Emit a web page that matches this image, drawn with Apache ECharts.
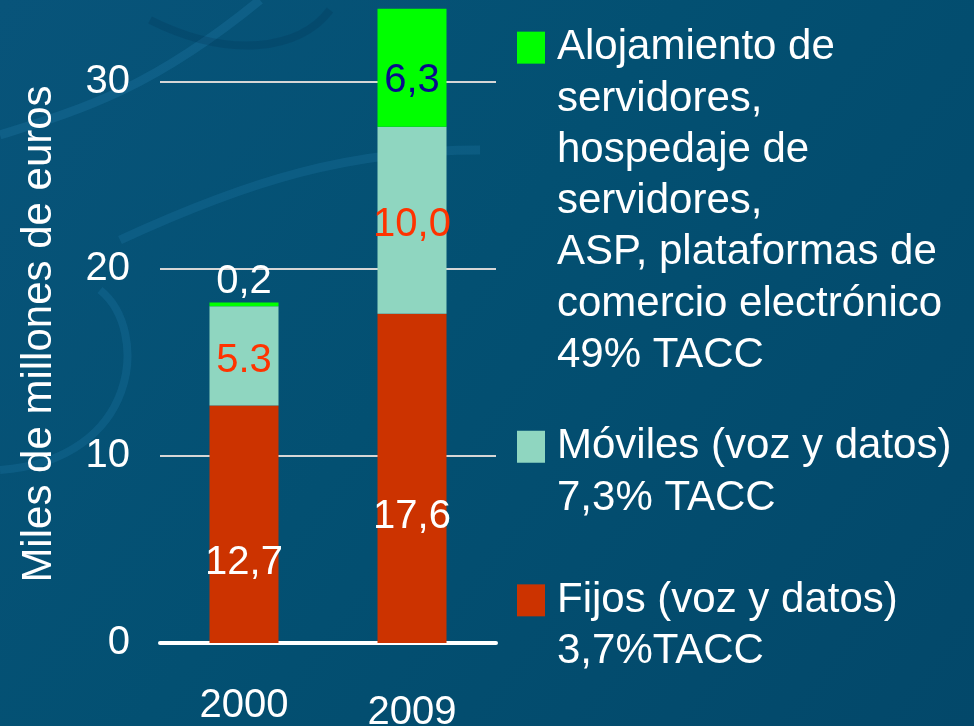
<!DOCTYPE html>
<html>
<head>
<meta charset="utf-8">
<script src="https://cdn.jsdelivr.net/npm/echarts@6/dist/echarts.min.js"></script>
<style>
  html, body { margin: 0; padding: 0; }
  #main { width: 974px; height: 726px; }
</style>
</head>
<body>
<div id="main"></div>
<script>
var years = ['2000', '2009'];
var fijos = [12.7, 17.6];
var moviles = [5.3, 10.0];
var alojamiento = [0.2, 6.3];
var fijosLabels = ['12,7', '17,6'];
var movilesLabels = ['5.3', '10,0'];
var alojamientoLabels = ['0,2', '6,3'];
var yTicks = [0, 10, 20, 30];

var legendLines = {
  'Alojamiento': ['Alojamiento de', 'servidores,', 'hospedaje de', 'servidores,',
                  'ASP, plataformas de', 'comercio electrónico', '49% TACC'],
  'Móviles': ['Móviles (voz y datos)', '7,3% TACC'],
  'Fijos': ['Fijos (voz y datos)', '3,7%TACC']
};
var legendKey = { 'Alojamiento': 'a', 'Móviles': 'm', 'Fijos': 'f' };

var font = '"Liberation Sans", Arial, sans-serif';
var green = '#00ff00', teal = '#8fd6c0', red = '#cc3300';

var myChart = echarts.init(document.getElementById('main'));

function labelFrom(arr) {
  return function (p) { return arr[p.dataIndex]; };
}

// faint background swirls
function swirl(x1, y1, cx1, cy1, cx2, cy2, x2, y2, color, w) {
  return {
    type: 'bezierCurve', silent: true, z: -1,
    shape: { x1: x1, y1: y1, cpx1: cx1, cpy1: cy1, cpx2: cx2, cpy2: cy2, x2: x2, y2: y2 },
    style: { stroke: color, lineWidth: w, fill: null }
  };
}

var option = {
  backgroundColor: {
    type: 'linear', x: 0, y: 0, x2: 1, y2: 1,
    colorStops: [
      { offset: 0, color: '#08547a' },
      { offset: 0.45, color: '#035072' },
      { offset: 1, color: '#03486a' }
    ]
  },
  textStyle: { fontFamily: font },
  graphic: [
    swirl(0, 135, 80, 110, 150, 90, 260, 0, 'rgba(40,130,180,0.25)', 9),
    swirl(120, 240, 250, 180, 350, 150, 480, 150, 'rgba(40,130,180,0.22)', 9),
    swirl(0, 470, 140, 460, 150, 330, 100, 290, 'rgba(40,130,180,0.22)', 8),
    swirl(150, 20, 230, 60, 300, 50, 330, 10, 'rgba(0,40,70,0.18)', 8)
  ],
  grid: { left: 160, right: 478, top: 7, bottom: 83, outerBoundsMode: 'none' },
  legend: {
    orient: 'vertical',
    left: 512,
    top: 22,
    padding: 0,
    itemGap: 40,
    itemWidth: 0,
    itemHeight: 0,
    itemStyle: { opacity: 0 },
    selectedMode: false,
    data: [
      { name: 'Alojamiento' },
      { name: 'Móviles' },
      { name: 'Fijos', textStyle: { padding: [11, 0, 0, 0] } }
    ],
    formatter: function (name) {
      var k = legendKey[name];
      return legendLines[name].map(function (line, i) {
        return (i === 0 ? '{sq' + k + '|}{gap|}' : '{ind|}') + '{t|' + line + '}';
      }).join('\n');
    },
    textStyle: {
      color: '#ffffff',
      fontFamily: font,
      fontSize: 42,
      lineHeight: 51.3,
      rich: {
        sqa: { width: 28, height: 28, backgroundColor: green, padding: [0, 0, 4, 0] },
        sqm: { width: 28, height: 28, backgroundColor: teal, padding: [0, 0, 4, 0] },
        sqf: { width: 28, height: 28, backgroundColor: red, padding: [0, 0, 4, 0] },
        gap: { width: 12 },
        ind: { width: 40 },
        t: { color: '#ffffff', fontFamily: font, fontSize: 42, lineHeight: 51.3 }
      }
    }
  },
  xAxis: {
    type: 'category',
    data: years.map(function (y, i) {
      return { value: y, textStyle: { padding: [i === 1 ? 7 : 0, 0, 0, 0] } };
    }),
    axisLine: { lineStyle: { color: '#ffffff', width: 4 } },
    axisTick: { show: false },
    axisLabel: { color: '#ffffff', fontSize: 40, fontFamily: font, margin: 43 }
  },
  yAxis: {
    type: 'value',
    min: yTicks[0],
    max: 34,
    interval: yTicks[1] - yTicks[0],
    name: 'Miles de millones de euros',
    nameLocation: 'middle',
    nameGap: 100,
    nameTextStyle: { color: '#ffffff', fontSize: 42, fontFamily: font, padding: [0, 18, 0, 0] },
    axisLine: { show: false },
    axisTick: { show: false },
    axisLabel: { color: '#ffffff', fontSize: 40, fontFamily: font, margin: 30,
                 showMaxLabel: false, padding: [7, 0, 0, 0] },
    splitLine: { showMaxLine: false, lineStyle: { color: '#d6d6d6', width: 2 } }
  },
  series: [
    {
      name: 'Fijos', type: 'bar', stack: 'total', data: fijos, barWidth: 69,
      itemStyle: { color: red },
      label: { show: true, position: 'inside', offset: [0, 39], color: '#ffffff',
               fontSize: 40, fontFamily: font, formatter: labelFrom(fijosLabels) }
    },
    {
      name: 'Móviles', type: 'bar', stack: 'total', data: moviles, barWidth: 69,
      itemStyle: { color: teal },
      label: { show: true, position: 'inside', offset: [0, 5], color: '#ff3300',
               fontSize: 40, fontFamily: font, formatter: labelFrom(movilesLabels) }
    },
    {
      name: 'Alojamiento', type: 'bar', stack: 'total', barWidth: 69,
      data: alojamiento.map(function (v, i) {
        return i === 0
          ? { value: v, label: { position: 'top', distance: 5, offset: [0, 4], color: '#ffffff' } }
          : v;
      }),
      itemStyle: { color: green },
      label: { show: true, position: 'inside', offset: [0, 13], color: '#0a0a8c',
               fontSize: 40, fontFamily: font, formatter: labelFrom(alojamientoLabels) }
    }
  ]
};
myChart.setOption(option);
</script>
</body>
</html>
